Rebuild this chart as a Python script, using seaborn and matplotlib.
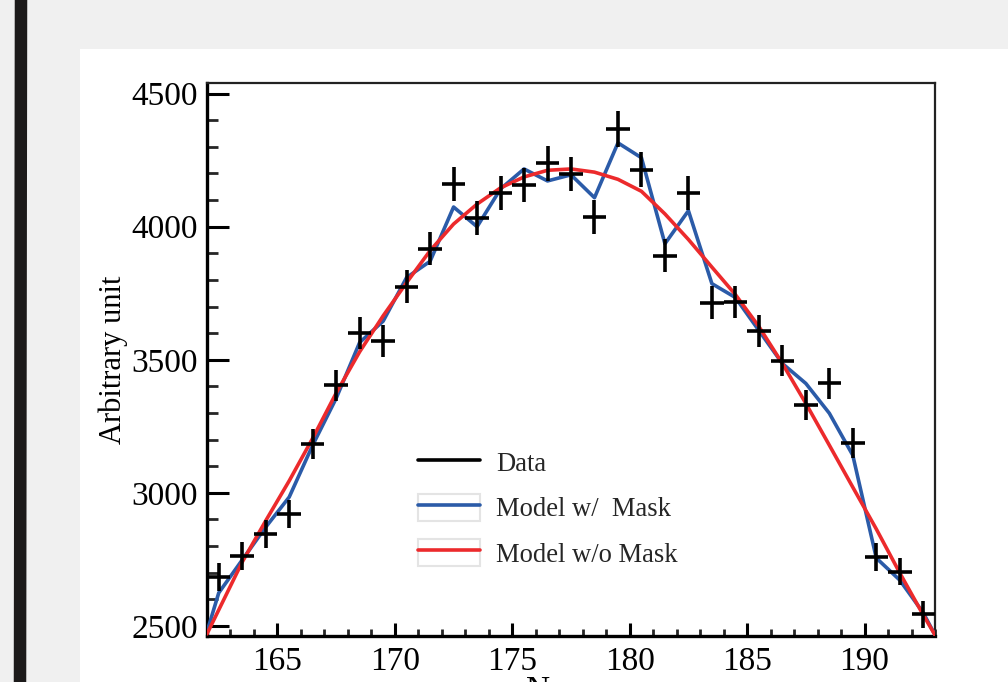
import numpy as np
import matplotlib
matplotlib.use("Agg")
import matplotlib.pyplot as plt
import seaborn as sns
from matplotlib.lines import Line2D
from matplotlib.patches import Patch, Rectangle
from matplotlib.legend_handler import HandlerTuple
from matplotlib.ticker import MultipleLocator

# bin centres and counts
bin_centers = [162.5, 163.5, 164.5, 165.5, 166.5, 167.5, 168.5, 169.5, 170.5, 171.5,
               172.5, 173.5, 174.5, 175.5, 176.5, 177.5, 178.5, 179.5, 180.5, 181.5,
               182.5, 183.5, 184.5, 185.5, 186.5, 187.5, 188.5, 189.5, 190.5, 191.5,
               192.5]
data_counts = [2684, 2762, 2845, 2920, 3182, 3404, 3600, 3570, 3775, 3918,
               4162, 4032, 4125, 4157, 4238, 4198, 4037, 4367, 4214, 3891,
               4125, 3715, 3717, 3607, 3497, 3330, 3411, 3188, 2760, 2704,
               2543]
data_err = [52, 53, 53, 54, 56, 58, 60, 60, 61, 63,
            64, 63, 64, 64, 65, 65, 64, 66, 65, 62,
            64, 61, 61, 60, 59, 58, 58, 56, 53, 52,
            50]

# model curves, with the two range edges added
model_x = [162.0] + bin_centers + [193.0]
model_mask = [2478, 2624, 2748, 2871, 2984, 3179, 3355, 3565, 3645, 3809, 3870,
              4074, 4000, 4142, 4217, 4172, 4195, 4109, 4315, 4259, 3936,
              4060, 3786, 3734, 3610, 3486, 3411, 3299, 3141, 2755, 2672,
              2549, 2466]
model_nomask = [2470, 2560, 2740, 2895, 3045, 3205, 3375, 3530, 3665, 3790, 3910,
                4010, 4085, 4146, 4187, 4212, 4217, 4205, 4178, 4133, 4048,
                3952, 3848, 3745, 3625, 3486, 3336, 3179, 3021, 2864, 2699,
                2541, 2466]

blue = "#2b5ba8"
red = "#ec2a2c"

sns.set_theme(style="ticks")
plt.rcParams["font.family"] = ["Liberation Serif", "DejaVu Serif"]
plt.rcParams["mathtext.fontset"] = "stix"

fig = plt.figure(figsize=(10.08, 6.82), dpi=100, facecolor="#f0f0f0")

# slide background: white panel and the brush stroke on the left
fig.patches.append(Rectangle((80 / 1008, 0), 1 - 80 / 1008, 633 / 682,
                             transform=fig.transFigure, facecolor="white",
                             edgecolor="none", zorder=-1))
fig.add_artist(Line2D([20 / 1008, 21 / 1008], [0, 1], transform=fig.transFigure,
                      color="#1c1a1a", lw=9, solid_capstyle="butt"))

ax = fig.add_axes([207 / 1008, 46 / 682, 728 / 1008, 553 / 682])
ax.set_facecolor("white")

df_mask = {"x": model_x, "y": model_mask}
df_nomask = {"x": model_x, "y": model_nomask}
sns.lineplot(x="x", y="y", data=df_mask, ax=ax, color=blue, lw=2.6,
             sort=False, zorder=3)
sns.lineplot(x="x", y="y", data=df_nomask, ax=ax, color=red, lw=2.6,
             sort=False, zorder=4)
ax.errorbar(bin_centers, data_counts, xerr=0.5, yerr=data_err, fmt="none",
            ecolor="black", elinewidth=2.6, capsize=0, zorder=5)

ax.set_xlim(162, 193)
ax.set_ylim(2462, 4540)
ax.xaxis.set_major_locator(MultipleLocator(5))
ax.xaxis.set_minor_locator(MultipleLocator(1))
ax.yaxis.set_major_locator(MultipleLocator(500))
ax.yaxis.set_minor_locator(MultipleLocator(100))

ax.tick_params(axis="x", which="major", direction="in", length=9.5, width=2.2,
               labelsize=24, pad=7.5, colors="black", top=False)
ax.tick_params(axis="x", which="minor", direction="in", length=5, width=2.0, top=False)
ax.tick_params(axis="y", which="major", direction="in", length=16, width=2.2,
               labelsize=24, pad=6.5, colors="black", right=False)
ax.tick_params(axis="y", which="minor", direction="in", length=8, width=2.0, right=False)

for side in ["left", "bottom"]:
    ax.spines[side].set_linewidth(2.4)
    ax.spines[side].set_color("black")
for side in ["top", "right"]:
    ax.spines[side].set_linewidth(1.6)
    ax.spines[side].set_color("#222222")

ax.set_ylabel("Arbitrary unit", fontsize=22, color="black")
ax.yaxis.set_label_coords(-0.109, 0.5)
ax.set_xlabel("N", fontsize=24, color="black")
ax.xaxis.set_label_coords(0.455, -0.072)

box = dict(facecolor="white", edgecolor="#e4e4e4", lw=1.5)
handles = [
    Line2D([], [], color="black", lw=2.6),
    (Patch(**box), Line2D([], [], color=blue, lw=2.6)),
    (Patch(**box), Line2D([], [], color=red, lw=2.6)),
]
labels = ["Data", "Model w/  Mask", "Model w/o Mask"]
ax.legend(handles, labels, loc="upper left", bbox_to_anchor=(0.290, 0.339),
          frameon=False, fontsize=19.2, handlelength=2.32, handleheight=1.2,
          handletextpad=0.6, labelspacing=0.62, borderpad=0, borderaxespad=0,
          handler_map={tuple: HandlerTuple(ndivide=1, pad=0)})

fig.savefig("out.png", dpi=100, facecolor=fig.get_facecolor())
